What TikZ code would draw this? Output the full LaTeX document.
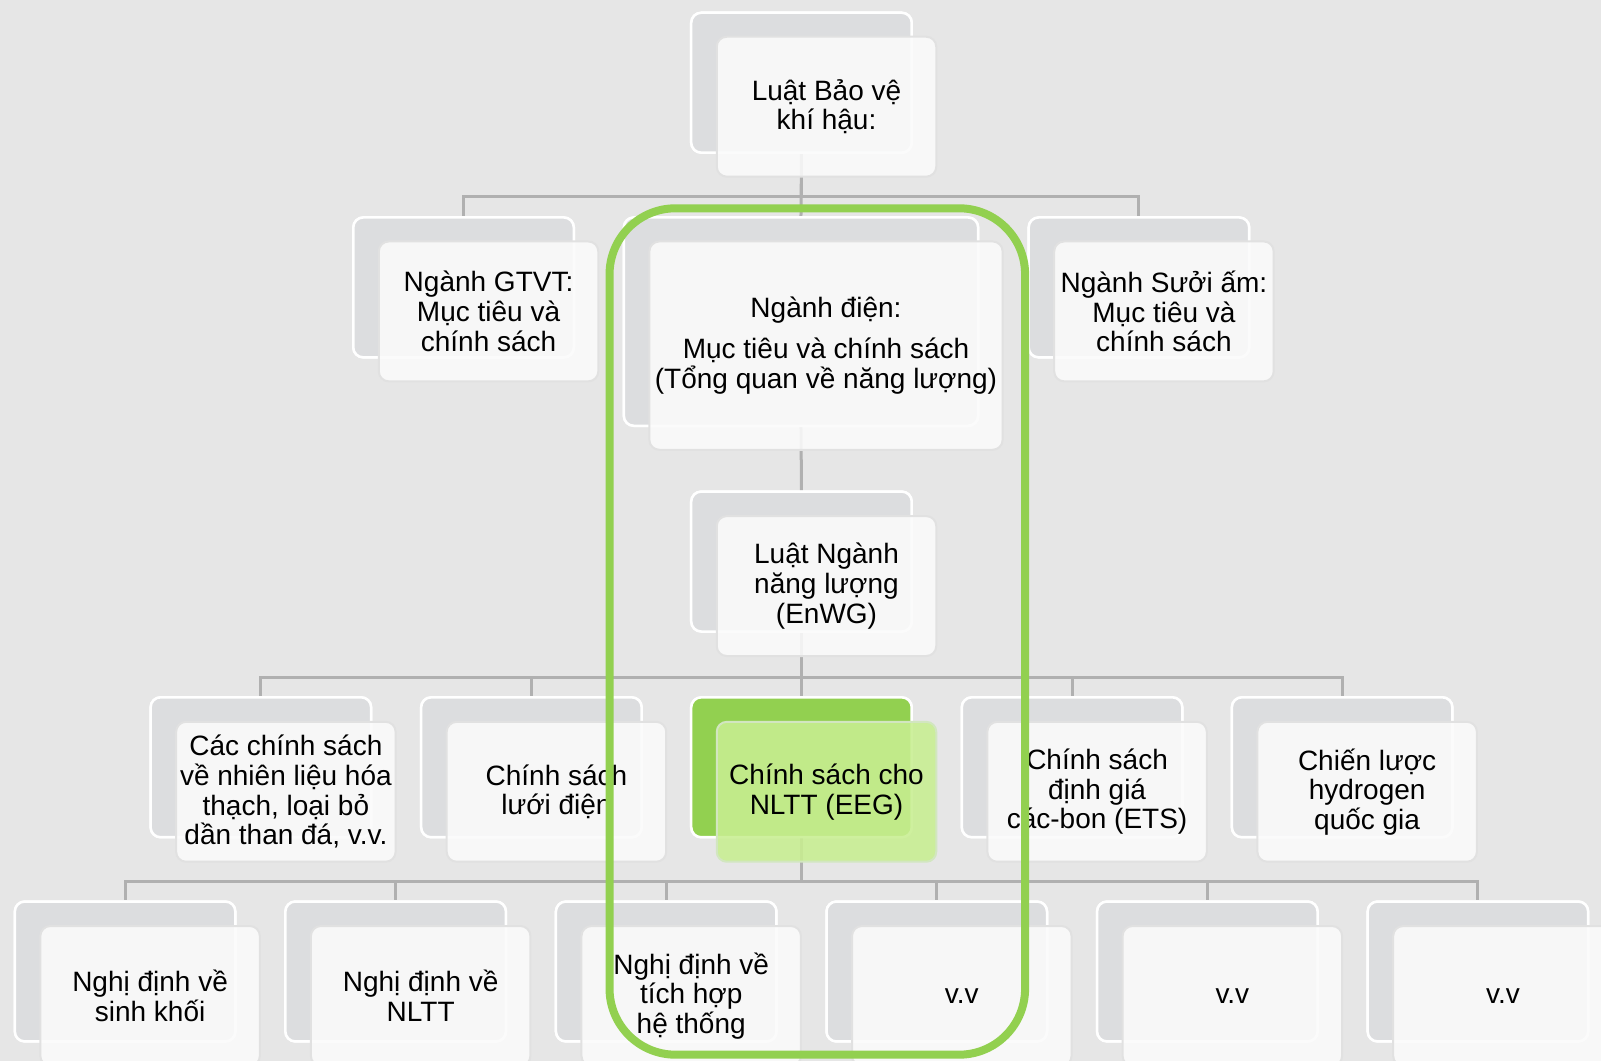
\documentclass[tikz,border=0pt]{standalone}
\usepackage{fontspec}
\setmainfont{Liberation Sans}
\definecolor{bgc}{HTML}{E6E6E6}
\definecolor{backfill}{HTML}{DCDDDF}
\definecolor{frontfill}{HTML}{FBFBFB}
\definecolor{frontline}{HTML}{E1E1E1}
\definecolor{connc}{HTML}{B0B0B0}
\definecolor{ggreen}{HTML}{92D050}
\definecolor{lgreen}{HTML}{C8EE91}
\definecolor{lgreenline}{HTML}{D2E6C0}
\begin{document}
\begin{tikzpicture}[x=1.021pt,y=-1.021pt,
  backcard/.style={rectangle, rounded corners=10pt, fill=backfill, draw=white, line width=2.5pt,
     minimum width=220.5pt, minimum height=139.9pt, inner sep=0pt},
  frontcard/.style={rectangle, rounded corners=10pt, fill=frontfill, fill opacity=0.88, text opacity=1,
     draw=frontline, line width=2pt, minimum width=219.5pt, minimum height=139.9pt, inner sep=0pt,
     align=center, font=\fontsize{28}{29.6}\selectfont},
  bigback/.style={backcard, minimum width=354.3pt, minimum height=208.3pt},
  bigfront/.style={frontcard, minimum width=353.3pt, minimum height=208.3pt},
  greenback/.style={backcard, fill=ggreen},
  greenfront/.style={frontcard, fill=lgreen, draw=lgreenline},
  conn/.style={draw=connc, line width=3pt},
  grp/.style={draw=ggreen, line width=8pt, rounded corners=66pt}
]
\useasboundingbox (0,0) rectangle (1568.07,1039.18);
\fill[bgc] (0,0) rectangle (1568.07,1039.18);
\clip (0,0) rectangle (1568.07,1039.18);

% back cards
\node[backcard] (b0) at (785,81) {};
\node[backcard] (bA) at (454,281.5) {};
\node[bigback]  (bB) at (784.5,315) {};
\node[backcard] (bC) at (1115.5,281.5) {};
\node[backcard] (bD) at (785,550) {};
\node[backcard]  (bE1) at (255.5,751.5) {};
\node[backcard]  (bE2) at (520.5,751.5) {};
\node[greenback] (bE3) at (785,751.5) {};
\node[backcard]  (bE4) at (1050,751.5) {};
\node[backcard]  (bE5) at (1314.5,751.5) {};
\node[backcard] (bF1) at (122.5,951.5) {};
\node[backcard] (bF2) at (387.5,951.5) {};
\node[backcard] (bF3) at (652.5,951.5) {};
\node[backcard] (bF4) at (917.5,951.5) {};
\node[backcard] (bF5) at (1182.5,951.5) {};
\node[backcard] (bF6) at (1447.5,951.5) {};

% connectors
\draw[conn] (b0.south) -- ++(0,42) -| (bA.north);
\draw[conn] (b0.south) -- ++(0,42) -| (bC.north);
\draw[conn] (b0.south) -- (bB.north);
\draw[conn] (bB.south) -- (bD.north);
\foreach \n in {bE1,bE2,bE4,bE5}{\draw[conn] (bD.south) -- ++(0,44) -| (\n.north);}
\draw[conn] (bD.south) -- (bE3.north);
\foreach \n in {bF1,bF2,bF3,bF4,bF5,bF6}{\draw[conn] (bE3.south) -- ++(0,42) -| (\n.north);}

% redraw back cards above connectors
\node[backcard] at (b0) {};
\node[backcard] at (bA) {};
\node[bigback]  at (bB) {};
\node[backcard] at (bC) {};
\node[backcard] at (bD) {};
\node[backcard]  at (bE1) {};
\node[backcard]  at (bE2) {};
\node[greenback] at (bE3) {};
\node[backcard]  at (bE4) {};
\node[backcard]  at (bE5) {};
\foreach \n in {bF1,bF2,bF3,bF4,bF5,bF6}{\node[backcard] at (\n) {};}

% front cards
\node[frontcard] (f0) at (809.5,104.5) {Luật Bảo vệ\\khí hậu:};
\node[frontcard] (fA) at (478.5,305) {Ngành GTVT:\\Mục tiêu và\\chính sách};
\node[bigfront]  (fB) at (809,338.5) {Ngành điện:\\[11pt]Mục tiêu và chính sách\\(Tổng quan về năng lượng)};
\node[frontcard] (fC) at (1140,305) {Ngành Sưởi ấm:\\Mục tiêu và\\chính sách};
\node[frontcard] (fD) at (809.5,574) {Luật Ngành\\năng lượng\\(EnWG)};
\node[frontcard]  (fE1) at (280,775.5) {Các chính sách\\về nhiên liệu hóa\\thạch, loại bỏ\\dần than đá, v.v.};
\node[frontcard]  (fE2) at (545,775.5) {Chính sách\\lưới điện};
\node[greenfront] (fE3) at (809.5,775.5) {Chính sách cho\\NLTT (EEG)};
\node[frontcard]  (fE4) at (1074.5,775.5) {Chính sách\\định giá\\các-bon (ETS)};
\node[frontcard]  (fE5) at (1339,775.5) {Chiến lược\\hydrogen\\quốc gia};
\node[frontcard] (fF1) at (147,975.5) {Nghị định về\\sinh khối};
\node[frontcard] (fF2) at (412,975.5) {Nghị định về\\NLTT};
\node[frontcard] (fF3) at (677,975.5) {Nghị định về\\tích hợp\\hệ thống};
\node[frontcard] (fF4) at (942,975.5) {v.v};
\node[frontcard] (fF5) at (1207,975.5) {v.v};
\node[frontcard] (fF6) at (1472,975.5) {v.v};

% highlight frame
\draw[grp] (597,204) rectangle (1004,1033);
\end{tikzpicture}
\end{document}
